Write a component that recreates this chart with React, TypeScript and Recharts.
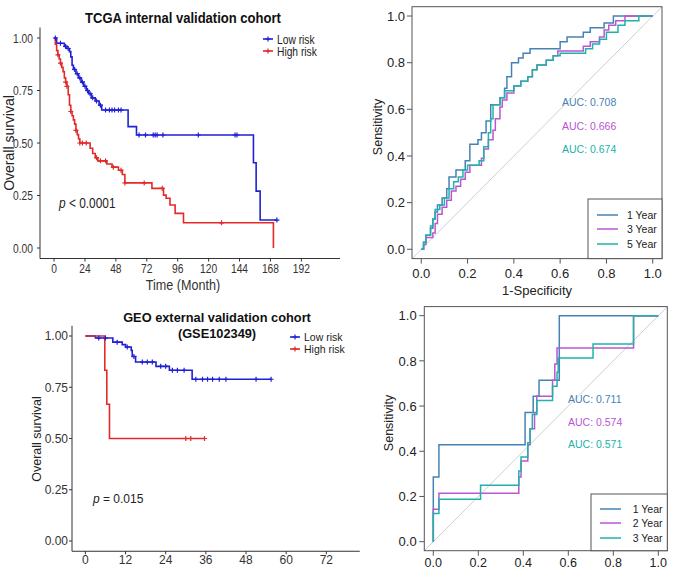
import React from "react";
import { ComposedChart, Line, Scatter, XAxis, YAxis } from "recharts";

// ---- TCGA internal validation cohort (KM) ----
const lowTimeA = [0, 2, 8, 10, 12, 13, 14, 15, 17, 19, 21, 23, 25, 27, 29, 32, 35, 37, 57.5, 64, 154.8, 156.9, 160, 173];
const lowSurvA = [1.0, 0.975, 0.96, 0.95, 0.935, 0.91, 0.87, 0.85, 0.83, 0.81, 0.79, 0.77, 0.75, 0.735, 0.715, 0.7, 0.68, 0.657, 0.578, 0.538, 0.406, 0.271, 0.133, 0.133];
const highTimeA = [0, 1, 2, 3, 4, 5, 6, 7, 8, 9, 10, 11, 12, 13, 14, 15, 16, 17, 18, 19, 20, 28, 30, 32, 34, 41, 45, 50, 53, 55, 76, 85, 87, 90, 94, 100.5, 170.3];
const highSurvA = [1.0, 0.97, 0.94, 0.92, 0.9, 0.88, 0.86, 0.84, 0.81, 0.79, 0.77, 0.73, 0.68, 0.65, 0.63, 0.61, 0.59, 0.56, 0.54, 0.52, 0.5, 0.475, 0.45, 0.43, 0.415, 0.4, 0.385, 0.37, 0.35, 0.31, 0.284, 0.252, 0.237, 0.205, 0.165, 0.12, 0];
const lowCensA = [1, 5, 9, 11, 16, 18, 20, 22, 24, 26, 28, 30, 33, 36, 40, 43, 45, 47, 50, 52, 66, 71, 77, 78.5, 80, 84.5, 112, 140.5, 142, 173];
const highCensA = [3, 5, 9, 10, 13, 17, 20, 22, 25, 33, 36, 40, 46, 52, 55, 70, 84, 130];
const monthTicksA = [0, 24, 48, 72, 96, 120, 144, 168, 192];

// ---- GEO external validation cohort (KM) ----
const lowTimeC = [0, 3, 8.2, 11, 12, 13.7, 14, 15, 21.1, 25.1, 31.9, 55.5];
const lowSurvC = [1.0, 0.99, 0.97, 0.958, 0.946, 0.93, 0.9, 0.873, 0.852, 0.833, 0.789, 0.789];
const highTimeC = [0, 5.8, 6.4, 7.2, 35.6];
const highSurvC = [1.0, 0.833, 0.667, 0.5, 0.5];
const lowCensC = [4, 6, 9.5, 12.5, 14.5, 17, 18.5, 20, 22.5, 24, 26, 27.5, 29.5, 33, 35, 36.5, 38, 40, 42, 51, 55.5];
const highCensC = [30, 31.5, 35.6];
const monthTicksC = [0, 12, 24, 36, 48, 60, 72];

const survTicks = [0, 0.25, 0.5, 0.75, 1];

// ---- TCGA ROC (fpr where the step rises, new tpr) ----
const fpr1B = [0, 0.01, 0.02, 0.04, 0.05, 0.06, 0.07, 0.09, 0.11, 0.12, 0.15, 0.19, 0.21, 0.245, 0.26, 0.28, 0.3, 0.34, 0.36, 0.37, 0.39, 0.42, 0.44, 0.47, 0.6, 0.63, 0.7, 0.73, 0.79, 0.83, 1];
const tpr1B = [0, 0.03, 0.06, 0.09, 0.13, 0.16, 0.19, 0.22, 0.26, 0.31, 0.34, 0.38, 0.45, 0.47, 0.5, 0.55, 0.62, 0.65, 0.69, 0.74, 0.8, 0.82, 0.84, 0.86, 0.89, 0.91, 0.93, 0.95, 0.97, 1.0, 1.0];
const fpr3B = [0, 0.01, 0.02, 0.05, 0.06, 0.07, 0.09, 0.11, 0.13, 0.15, 0.17, 0.19, 0.21, 0.26, 0.27, 0.29, 0.31, 0.32, 0.34, 0.35, 0.37, 0.4, 0.43, 0.46, 0.48, 0.5, 0.54, 0.57, 0.59, 0.7, 0.73, 0.77, 0.79, 0.81, 0.84, 0.88, 1];
const tpr3B = [0, 0.02, 0.05, 0.07, 0.11, 0.15, 0.18, 0.21, 0.25, 0.27, 0.3, 0.33, 0.36, 0.39, 0.43, 0.47, 0.51, 0.56, 0.61, 0.64, 0.67, 0.7, 0.72, 0.74, 0.77, 0.79, 0.81, 0.83, 0.85, 0.87, 0.89, 0.91, 0.94, 0.96, 0.98, 1.0, 1.0];
const fpr5B = [0, 0.01, 0.02, 0.04, 0.05, 0.06, 0.08, 0.1, 0.12, 0.14, 0.16, 0.18, 0.2, 0.25, 0.27, 0.29, 0.3, 0.31, 0.34, 0.36, 0.4, 0.43, 0.46, 0.48, 0.5, 0.54, 0.57, 0.6, 0.71, 0.74, 0.77, 0.8, 0.85, 0.88, 0.94, 1];
const tpr5B = [0, 0.03, 0.06, 0.1, 0.13, 0.17, 0.19, 0.22, 0.26, 0.29, 0.31, 0.34, 0.36, 0.38, 0.44, 0.5, 0.56, 0.62, 0.65, 0.68, 0.7, 0.72, 0.74, 0.77, 0.79, 0.81, 0.83, 0.84, 0.86, 0.88, 0.9, 0.93, 0.96, 0.98, 1.0, 1.0];
const aucB = ["AUC: 0.708", "AUC: 0.666", "AUC: 0.674"];
const yearsB = ["1 Year", "3 Year", "5 Year"];

// ---- GEO ROC ----
const fpr1D = [0, 0, 0.025, 0.408, 0.444, 0.47, 0.56, 1];
const tpr1D = [0, 0.286, 0.429, 0.571, 0.643, 0.714, 1.0, 1.0];
const fpr2D = [0, 0, 0.025, 0.38, 0.39, 0.42, 0.43, 0.45, 0.46, 0.53, 0.54, 0.55, 0.89, 1];
const tpr2D = [0, 0.143, 0.214, 0.286, 0.357, 0.429, 0.5, 0.571, 0.643, 0.714, 0.786, 0.857, 1.0, 1.0];
const fpr3D = [0, 0, 0.025, 0.21, 0.38, 0.39, 0.42, 0.43, 0.44, 0.46, 0.53, 0.55, 0.555, 0.71, 0.89, 1];
const tpr3D = [0, 0.125, 0.1875, 0.25, 0.3125, 0.375, 0.4375, 0.5, 0.5625, 0.625, 0.6875, 0.75, 0.8125, 0.875, 1.0, 1.0];
const aucD = ["AUC: 0.711", "AUC: 0.574", "AUC: 0.571"];
const yearsD = ["1 Year", "2 Year", "3 Year"];

const rocTicks = [0, 0.2, 0.4, 0.6, 0.8, 1];
const diag = [-0.04, 1.04];

const FONT = "'Liberation Sans', Arial, Helvetica, sans-serif";
const BLUE = "#2020d4";
const RED = "#e22a2a";
const ROC_COLORS = ["#4682B4", "#BA55D3", "#20B2AA"];

const pts = (xs: number[], ys: number[]) => xs.map((x, i) => ({ x, y: ys[i] }));

function survAt(times: number[], surv: number[], t: number) {
  let v = surv[0];
  for (let i = 0; i < times.length; i++) if (times[i] <= t) v = surv[i];
  return v;
}
const cens = (ct: number[], times: number[], surv: number[]) =>
  ct.map((t) => ({ x: t, y: survAt(times, surv, t) }));

const plus = (color: string) => (p: any) =>
  <path d={`M${p.cx - 2.5},${p.cy}h5M${p.cx},${p.cy - 2.5}v5`} stroke={color} strokeWidth={1.2} fill="none" />;

const xTick = (size: number, sx: number, digits: number, color: string) => (p: any) => (
  <g transform={`translate(${p.x},${p.y}) scale(${sx},1)`}>
    <text x={0} y={size * 0.71} textAnchor="middle" fontSize={size} fill={color} fontFamily={FONT}>
      {digits ? Number(p.payload.value).toFixed(digits) : p.payload.value}
    </text>
  </g>
);
const yTick = (size: number, sx: number, digits: number, color: string) => (p: any) => (
  <g transform={`translate(${p.x},${p.y}) scale(${sx},1)`}>
    <text x={0} y={size * 0.36} textAnchor="end" fontSize={size} fill={color} fontFamily={FONT}>
      {Number(p.payload.value).toFixed(digits)}
    </text>
  </g>
);

function T({ x, y, s, a = "start", w = 400, sx = 1, r = 0, c = "#222", children }: any) {
  return (
    <g transform={`translate(${x},${y}) rotate(${r}) scale(${sx},1)`}>
      <text x={0} y={s * 0.36} fontSize={s} textAnchor={a} fontWeight={w} fill={c} fontFamily={FONT}>
        {children}
      </text>
    </g>
  );
}

const line = (data: any[], color: string, width = 1.6, type: any = "stepAfter") => (
  <Line data={data} dataKey="y" type={type} stroke={color} strokeWidth={width} dot={false} activeDot={false} isAnimationActive={false} />
);

function KmLegend({ x, y, gap, s, sx, labels }: any) {
  return (
    <g>
      {[BLUE, RED].map((c, i) => (
        <g key={c}>
          <line x1={x} x2={x + 10} y1={y + i * gap} y2={y + i * gap} stroke={c} strokeWidth={1.6} />
          <path d={`M${x + 5 - 2.5},${y + i * gap}h5M${x + 5},${y + i * gap - 2.5}v5`} stroke={c} strokeWidth={1.2} />
          <T x={x + 14} y={y + i * gap} s={s} sx={sx} c="#222">{labels[i]}</T>
        </g>
      ))}
    </g>
  );
}

function RocLegend({ x, y, w, h, lx, tx, ys, labels }: any) {
  return (
    <g>
      <rect x={x} y={y} width={w} height={h} fill="#fff" stroke="#555" strokeWidth={1} />
      {labels.map((l: string, i: number) => (
        <g key={l}>
          <line x1={lx} x2={lx + 21} y1={ys[i]} y2={ys[i]} stroke={ROC_COLORS[i]} strokeWidth={1.5} />
          <T x={tx} y={ys[i]} s={10.5}>{l}</T>
        </g>
      ))}
    </g>
  );
}

export default function App() {
  const lowA = pts(lowTimeA, lowSurvA);
  const highA = pts(highTimeA, highSurvA);
  const lowC = pts(lowTimeC, lowSurvC);
  const highC = pts(highTimeC, highSurvC);
  const diagPts = pts(diag, diag);

  return (
    <div style={{ position: "absolute", left: 0, top: 0, width: 678, height: 571, background: "#fff", overflow: "hidden", fontFamily: FONT }}>
      {/* TCGA KM */}
      <div style={{ position: "absolute", left: 0, top: 0 }}>
        <ComposedChart width={340} height={290} margin={{ top: 27.5, right: 0, bottom: 0, left: 0 }}>
          <XAxis type="number" dataKey="x" domain={[-10.9, 222]} ticks={monthTicksA} interval={0} allowDataOverflow
            height={31.5} tickSize={3} tickMargin={3} stroke="#333" tick={xTick(12.5, 0.82, 0, "#333")} />
          <YAxis type="number" dataKey="y" domain={[-0.05, 1.05]} ticks={survTicks} interval={0} allowDataOverflow
            width={40} tickSize={3} tickMargin={4} stroke="#333" tick={yTick(12.5, 0.82, 2, "#333")} />
          {line(lowA, BLUE)}
          {line(highA, RED)}
          <Scatter data={cens(lowCensA, lowTimeA, lowSurvA)} shape={plus(BLUE)} isAnimationActive={false} />
          <Scatter data={cens(highCensA, highTimeA, highSurvA)} shape={plus(RED)} isAnimationActive={false} />
        </ComposedChart>
      </div>

      {/* TCGA ROC */}
      <div style={{ position: "absolute", left: 340, top: 0 }}>
        <ComposedChart width={338} height={300} margin={{ top: 6.7, right: 16, bottom: 0, left: 0 }}>
          <XAxis type="number" dataKey="x" domain={[-0.04, 1.04]} ticks={rocTicks} interval={0} allowDataOverflow
            height={41.4} tickSize={5} tickMargin={4.7} axisLine={false} stroke="#555" tick={xTick(13, 1, 1, "#222")} />
          <YAxis type="number" dataKey="y" domain={[-0.04, 1.04]} ticks={rocTicks} interval={0} allowDataOverflow
            width={72} tickSize={5} tickMargin={2} axisLine={false} stroke="#555" tick={yTick(13, 1, 1, "#222")} />
          {line(diagPts, "#cfcfcf", 1, "linear")}
          {line(pts(fpr1B, tpr1B), ROC_COLORS[0], 1.5)}
          {line(pts(fpr3B, tpr3B), ROC_COLORS[1], 1.5)}
          {line(pts(fpr5B, tpr5B), ROC_COLORS[2], 1.5)}
        </ComposedChart>
      </div>

      {/* GEO KM */}
      <div style={{ position: "absolute", left: 0, top: 290 }}>
        <ComposedChart width={362} height={281} margin={{ top: 35.75, right: 2.2, bottom: 0, left: 0 }}>
          <XAxis type="number" dataKey="x" domain={[-4, 82]} ticks={monthTicksC} interval={0} allowDataOverflow
            height={19.75} tickSize={3} tickMargin={1.25} stroke="#333" tick={xTick(12, 1, 0, "#333")} />
          <YAxis type="number" dataKey="y" domain={[-0.05, 1.05]} ticks={survTicks} interval={0} allowDataOverflow
            width={72} tickSize={3} tickMargin={1} stroke="#333" tick={yTick(12, 1, 2, "#333")} />
          {line(lowC, BLUE)}
          {line(highC, RED)}
          <Scatter data={cens(lowCensC, lowTimeC, lowSurvC)} shape={plus(BLUE)} isAnimationActive={false} />
          <Scatter data={cens(highCensC, highTimeC, highSurvC)} shape={plus(RED)} isAnimationActive={false} />
        </ComposedChart>
      </div>

      {/* GEO ROC */}
      <div style={{ position: "absolute", left: 360, top: 290 }}>
        <ComposedChart width={318} height={281} margin={{ top: 16.6, right: 10.7, bottom: 0, left: 0 }}>
          <XAxis type="number" dataKey="x" domain={[-0.04, 1.04]} ticks={rocTicks} interval={0} allowDataOverflow
            height={20.3} tickSize={5} tickMargin={2.9} axisLine={false} stroke="#555" tick={xTick(12.5, 1, 1, "#222")} />
          <YAxis type="number" dataKey="y" domain={[-0.04, 1.04]} ticks={rocTicks} interval={0} allowDataOverflow
            width={64.3} tickSize={5} tickMargin={2.6} axisLine={false} stroke="#555" tick={yTick(13, 1, 1, "#222")} />
          {line(diagPts, "#cfcfcf", 1, "linear")}
          {line(pts(fpr1D, tpr1D), ROC_COLORS[0], 1.5)}
          {line(pts(fpr2D, tpr2D), ROC_COLORS[1], 1.5)}
          {line(pts(fpr3D, tpr3D), ROC_COLORS[2], 1.5)}
        </ComposedChart>
      </div>

      {/* annotations */}
      <svg width={678} height={571} style={{ position: "absolute", left: 0, top: 0, pointerEvents: "none" }}>
        {/* TCGA KM */}
        <T x={183} y={18} s={15} w={700} sx={0.87} a="middle" c="#111">TCGA internal validation cohort</T>
        <T x={8.5} y={143} s={14} r={-90} a="middle" c="#222">Overall survival</T>
        <T x={183} y={285} s={14} sx={0.9} a="middle" c="#333">Time (Month)</T>
        <g transform="translate(59,203) scale(0.85,1)">
          <text x={0} y={5} fontSize={14} fill="#222" fontFamily={FONT}>
            <tspan fontStyle="italic">p</tspan> &lt; 0.0001
          </text>
        </g>
        <KmLegend x={263} y={39} gap={12} s={12.5} sx={0.82} labels={["Low risk", "High risk"]} />

        {/* TCGA ROC */}
        <rect x={412} y={6.7} width={250} height={251.9} fill="none" stroke="#555" strokeWidth={1} />
        <T x={377} y={127} s={12.5} r={-90} a="middle">Sensitivity</T>
        <T x={537} y={290} s={13} a="middle">1-Specificity</T>
        {aucB.map((t, i) => (
          <T key={t} x={562} y={[102, 126, 149][i]} s={10.5} c={ROC_COLORS[i]}>{t}</T>
        ))}
        <RocLegend x={588} y={199} w={74} h={59.6} lx={597} tx={627} ys={[215, 229, 244]} labels={yearsB} />

        {/* GEO KM */}
        <T x={217} y={317} s={12.8} w={700} a="middle" c="#111">GEO external validation cohort</T>
        <T x={217} y={333} s={12.8} w={700} a="middle" c="#111">(GSE102349)</T>
        <T x={36.7} y={439} s={12.5} r={-90} a="middle">Overall survival</T>
        <text x={93} y={502.5} fontSize={12} fill="#222" fontFamily={FONT}>
          <tspan fontStyle="italic">p</tspan> = 0.015
        </text>
        <KmLegend x={290} y={337} gap={12} s={10.5} sx={1} labels={["Low risk", "High risk"]} />

        {/* GEO ROC */}
        <rect x={424.3} y={306.6} width={243} height={244.1} fill="none" stroke="#555" strokeWidth={1} />
        <T x={388} y={423} s={12.5} r={-90} a="middle">Sensitivity</T>
        {aucD.map((t, i) => (
          <T key={t} x={568} y={[399, 422, 444][i]} s={10.5} c={ROC_COLORS[i]}>{t}</T>
        ))}
        <RocLegend x={591} y={494} w={76.3} h={56.7} lx={600} tx={632.7} ys={[509, 523, 538]} labels={yearsD} />
      </svg>
    </div>
  );
}
